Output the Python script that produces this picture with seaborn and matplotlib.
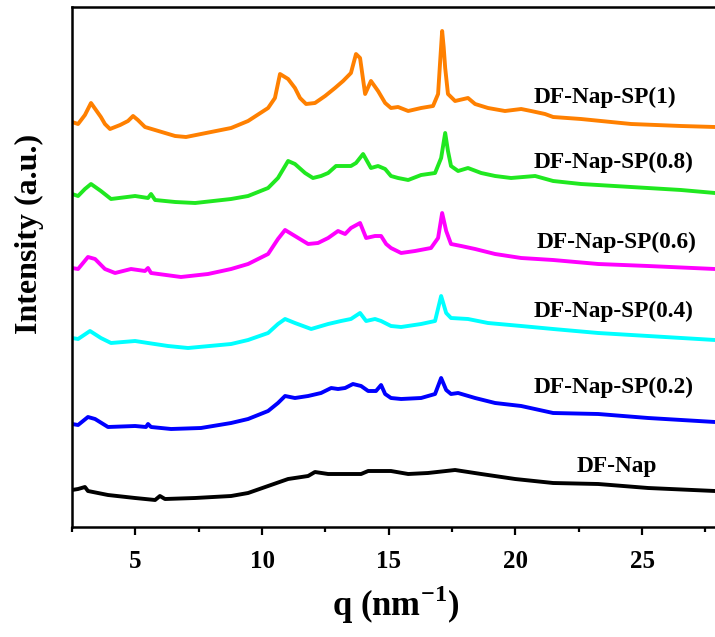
import matplotlib
matplotlib.use("Agg")
import matplotlib.pyplot as plt
from matplotlib.ticker import MultipleLocator, NullLocator
import numpy as np
import pandas as pd
import seaborn as sns

# ---------------- data (offset curves, a.u.) ----------------
q_sp1 = [2.50, 2.74, 3.01, 3.25, 3.64, 3.80, 4.00, 4.40, 4.71, 4.91, 5.10, 5.38, 6.57, 7.00,
         8.78, 9.45, 10.24, 10.51, 10.71, 11.03, 11.30, 11.50, 11.74, 12.09, 12.49, 12.88,
         13.20, 13.51, 13.71, 13.87, 14.07, 14.30, 14.58, 14.86, 15.09, 15.37, 15.77, 16.28,
         16.75, 16.95, 17.03, 17.11, 17.17, 17.23, 17.34, 17.62, 18.13, 18.41, 18.92, 19.59,
         20.23, 20.62, 21.17, 21.49, 22.59, 24.57, 26.54, 27.88]
i_sp1 = [405, 403, 412, 424, 410, 403, 398, 402, 406, 411, 407, 400, 391, 390,
         399, 406, 419, 429, 453, 448, 439, 429, 423, 424, 431, 439,
         446, 454, 473, 469, 433, 446, 436, 424, 419, 420, 416, 419,
         421, 433, 465, 496, 480, 459, 433, 426, 429, 423, 419, 416,
         418, 416, 413, 410, 408, 403, 401, 400]

q_sp08 = [2.50, 2.74, 3.01, 3.25, 3.64, 4.04, 4.99, 5.50, 5.62, 5.78, 6.57, 7.36, 8.78, 9.45,
          10.24, 10.63, 11.03, 11.30, 11.70, 12.01, 12.33, 12.61, 12.92, 13.20, 13.51, 13.71,
          13.99, 14.30, 14.58, 14.86, 15.09, 15.37, 15.77, 16.28, 16.83, 17.07, 17.23, 17.34,
          17.46, 17.74, 18.13, 18.65, 19.20, 19.83, 20.78, 21.49, 22.59, 24.57, 26.54, 27.88]
i_sp08 = [333, 331, 338, 343, 336, 328, 331, 329, 333, 327, 325, 324, 328, 331,
          339, 349, 366, 363, 354, 349, 351, 354, 361, 361, 361, 364,
          373, 359, 361, 358, 351, 349, 347, 352, 354, 369, 394, 376,
          361, 356, 359, 354, 351, 349, 351, 346, 343, 340, 337, 334]

q_sp06 = [2.50, 2.74, 3.13, 3.41, 3.80, 4.20, 4.83, 5.38, 5.50, 5.62, 6.80, 7.87, 8.78, 9.45,
          10.24, 10.63, 10.91, 11.30, 11.82, 12.21, 12.61, 13.00, 13.28, 13.51, 13.87, 14.11,
          14.46, 14.70, 14.90, 15.09, 15.49, 16.04, 16.67, 16.95, 17.11, 17.27, 17.46, 17.86,
          18.41, 19.20, 20.23, 21.49, 23.27, 25.24, 27.88]
i_sp06 = [259, 258, 270, 268, 258, 254, 258, 256, 259, 254, 250, 253, 258, 263,
          273, 288, 297, 291, 283, 284, 289, 296, 293, 299, 304, 289,
          291, 291, 283, 279, 274, 276, 279, 289, 314, 296, 283, 281,
          278, 273, 269, 267, 263, 261, 258]

q_sp04 = [2.50, 2.74, 3.21, 3.64, 4.04, 4.99, 5.50, 6.29, 7.08, 8.78, 9.45, 10.24, 10.63,
          10.91, 11.30, 11.94, 12.61, 13.12, 13.51, 13.87, 14.11, 14.46, 14.70, 15.09, 15.49,
          16.28, 16.83, 17.07, 17.27, 17.46, 18.13, 18.92, 20.23, 21.49, 23.27, 25.24, 27.88]
i_sp04 = [189, 188, 196, 189, 184, 186, 184, 181, 179, 183, 187, 194, 203,
          208, 204, 198, 203, 206, 208, 214, 206, 208, 206, 201, 200,
          203, 206, 231, 214, 209, 208, 204, 201, 198, 194, 191, 187]

q_sp02 = [2.50, 2.74, 3.13, 3.41, 3.92, 4.99, 5.42, 5.50, 5.62, 6.41, 7.59, 8.78, 9.45,
          10.24, 10.63, 10.91, 11.30, 11.82, 12.33, 12.73, 13.00, 13.28, 13.59, 13.91, 14.19,
          14.50, 14.70, 14.86, 15.09, 15.49, 16.28, 16.83, 17.07, 17.27, 17.46, 17.74, 18.41,
          19.20, 20.23, 21.49, 23.27, 25.24, 27.88]
i_sp02 = [103, 102, 110, 108, 100, 101, 100, 103, 100, 98, 99, 104, 108,
          116, 124, 131, 129, 131, 134, 139, 138, 139, 143, 141, 136,
          136, 142, 133, 129, 128, 129, 133, 149, 137, 133, 134, 129,
          124, 121, 114, 113, 109, 105]

q_nap = [2.50, 2.74, 3.01, 3.13, 3.92, 4.99, 5.78, 5.97, 6.17, 7.36, 8.78, 9.45, 10.24,
         11.03, 11.82, 12.09, 12.61, 13.28, 13.91, 14.19, 15.09, 15.77, 16.55, 17.62, 18.65,
         19.99, 21.49, 23.27, 25.24, 27.88]
i_nap = [37, 38, 40, 36, 32, 29, 27, 31, 28, 29, 31, 34, 41,
         48, 51, 55, 53, 53, 53, 56, 56, 53, 54, 57, 53,
         48, 44, 43, 39, 36]

labels = ["DF-Nap-SP(1)", "DF-Nap-SP(0.8)", "DF-Nap-SP(0.6)",
          "DF-Nap-SP(0.4)", "DF-Nap-SP(0.2)", "DF-Nap"]
label_q = [20.70, 20.70, 20.82, 20.70, 20.70, 22.40]
label_i = [424, 359, 279, 210, 134, 55]
x_ticks = [5, 10, 15, 20, 25]

series_q = [q_sp1, q_sp08, q_sp06, q_sp04, q_sp02, q_nap]
series_i = [i_sp1, i_sp08, i_sp06, i_sp04, i_sp02, i_nap]
colors = ["#FF8000", "#20E820", "#FF00FF", "#00FFFF", "#0000FF", "#000000"]

# ---------------- style ----------------
sns.set_style("ticks")
plt.rcParams["font.family"] = ["Liberation Serif", "DejaVu Serif"]
plt.rcParams["font.weight"] = "bold"
plt.rcParams["text.color"] = "black"
plt.rcParams["xtick.color"] = "black"
plt.rcParams["ytick.color"] = "black"
plt.rcParams["axes.edgecolor"] = "black"
plt.rcParams["mathtext.fontset"] = "custom"
plt.rcParams["mathtext.rm"] = "Liberation Serif"
plt.rcParams["mathtext.bf"] = "Liberation Serif:bold"

fig = plt.figure(figsize=(7.15, 6.37), dpi=100)
ax = fig.add_axes([72 / 715, 1 - 527 / 637, (715 - 72) / 715, 520 / 637])

for qv, iv, c, lab in zip(series_q, series_i, colors, labels):
    df = pd.DataFrame({"q": qv, "I": iv})
    sns.lineplot(data=df, x="q", y="I", color=c, lw=2.8, ax=ax,
                 estimator=None, sort=False, legend=False)

for lab, lq, li in zip(labels, label_q, label_i):
    ax.text(lq, li, lab, fontsize=16.8, fontweight="bold", ha="left", va="baseline",
            color="black")

ax.set_xlim(2.5, 27.88)
ax.set_ylim(0, 520)
ax.set_xticks(x_ticks)
ax.xaxis.set_minor_locator(MultipleLocator(2.5))
ax.yaxis.set_major_locator(NullLocator())
ax.yaxis.set_minor_locator(NullLocator())
ax.tick_params(axis="x", which="major", direction="out", length=5.5, width=1.6,
               labelsize=18, pad=11, labelcolor="black")
ax.tick_params(axis="x", which="minor", direction="out", length=3.5, width=1.6)
for lbl in ax.get_xticklabels():
    lbl.set_fontweight("bold")

for side in ["left", "bottom", "top"]:
    ax.spines[side].set_visible(True)
    ax.spines[side].set_linewidth(1.8)
    ax.spines[side].set_color("black")
ax.spines["right"].set_visible(False)

ax.set_xlabel("")
ax.set_ylabel("")
fig.text(396 / 715, 1 - 605 / 637, r"q (nm$^{\mathbf{-1}}$)", fontsize=25,
         fontweight="bold", ha="center", va="center", color="black")
fig.text(29 / 715, 1 - 234 / 637, "Intensity (a.u.)", fontsize=23,
         fontweight="bold", ha="center", va="center", rotation=90, color="black")

fig.savefig("out.png", dpi=100)
